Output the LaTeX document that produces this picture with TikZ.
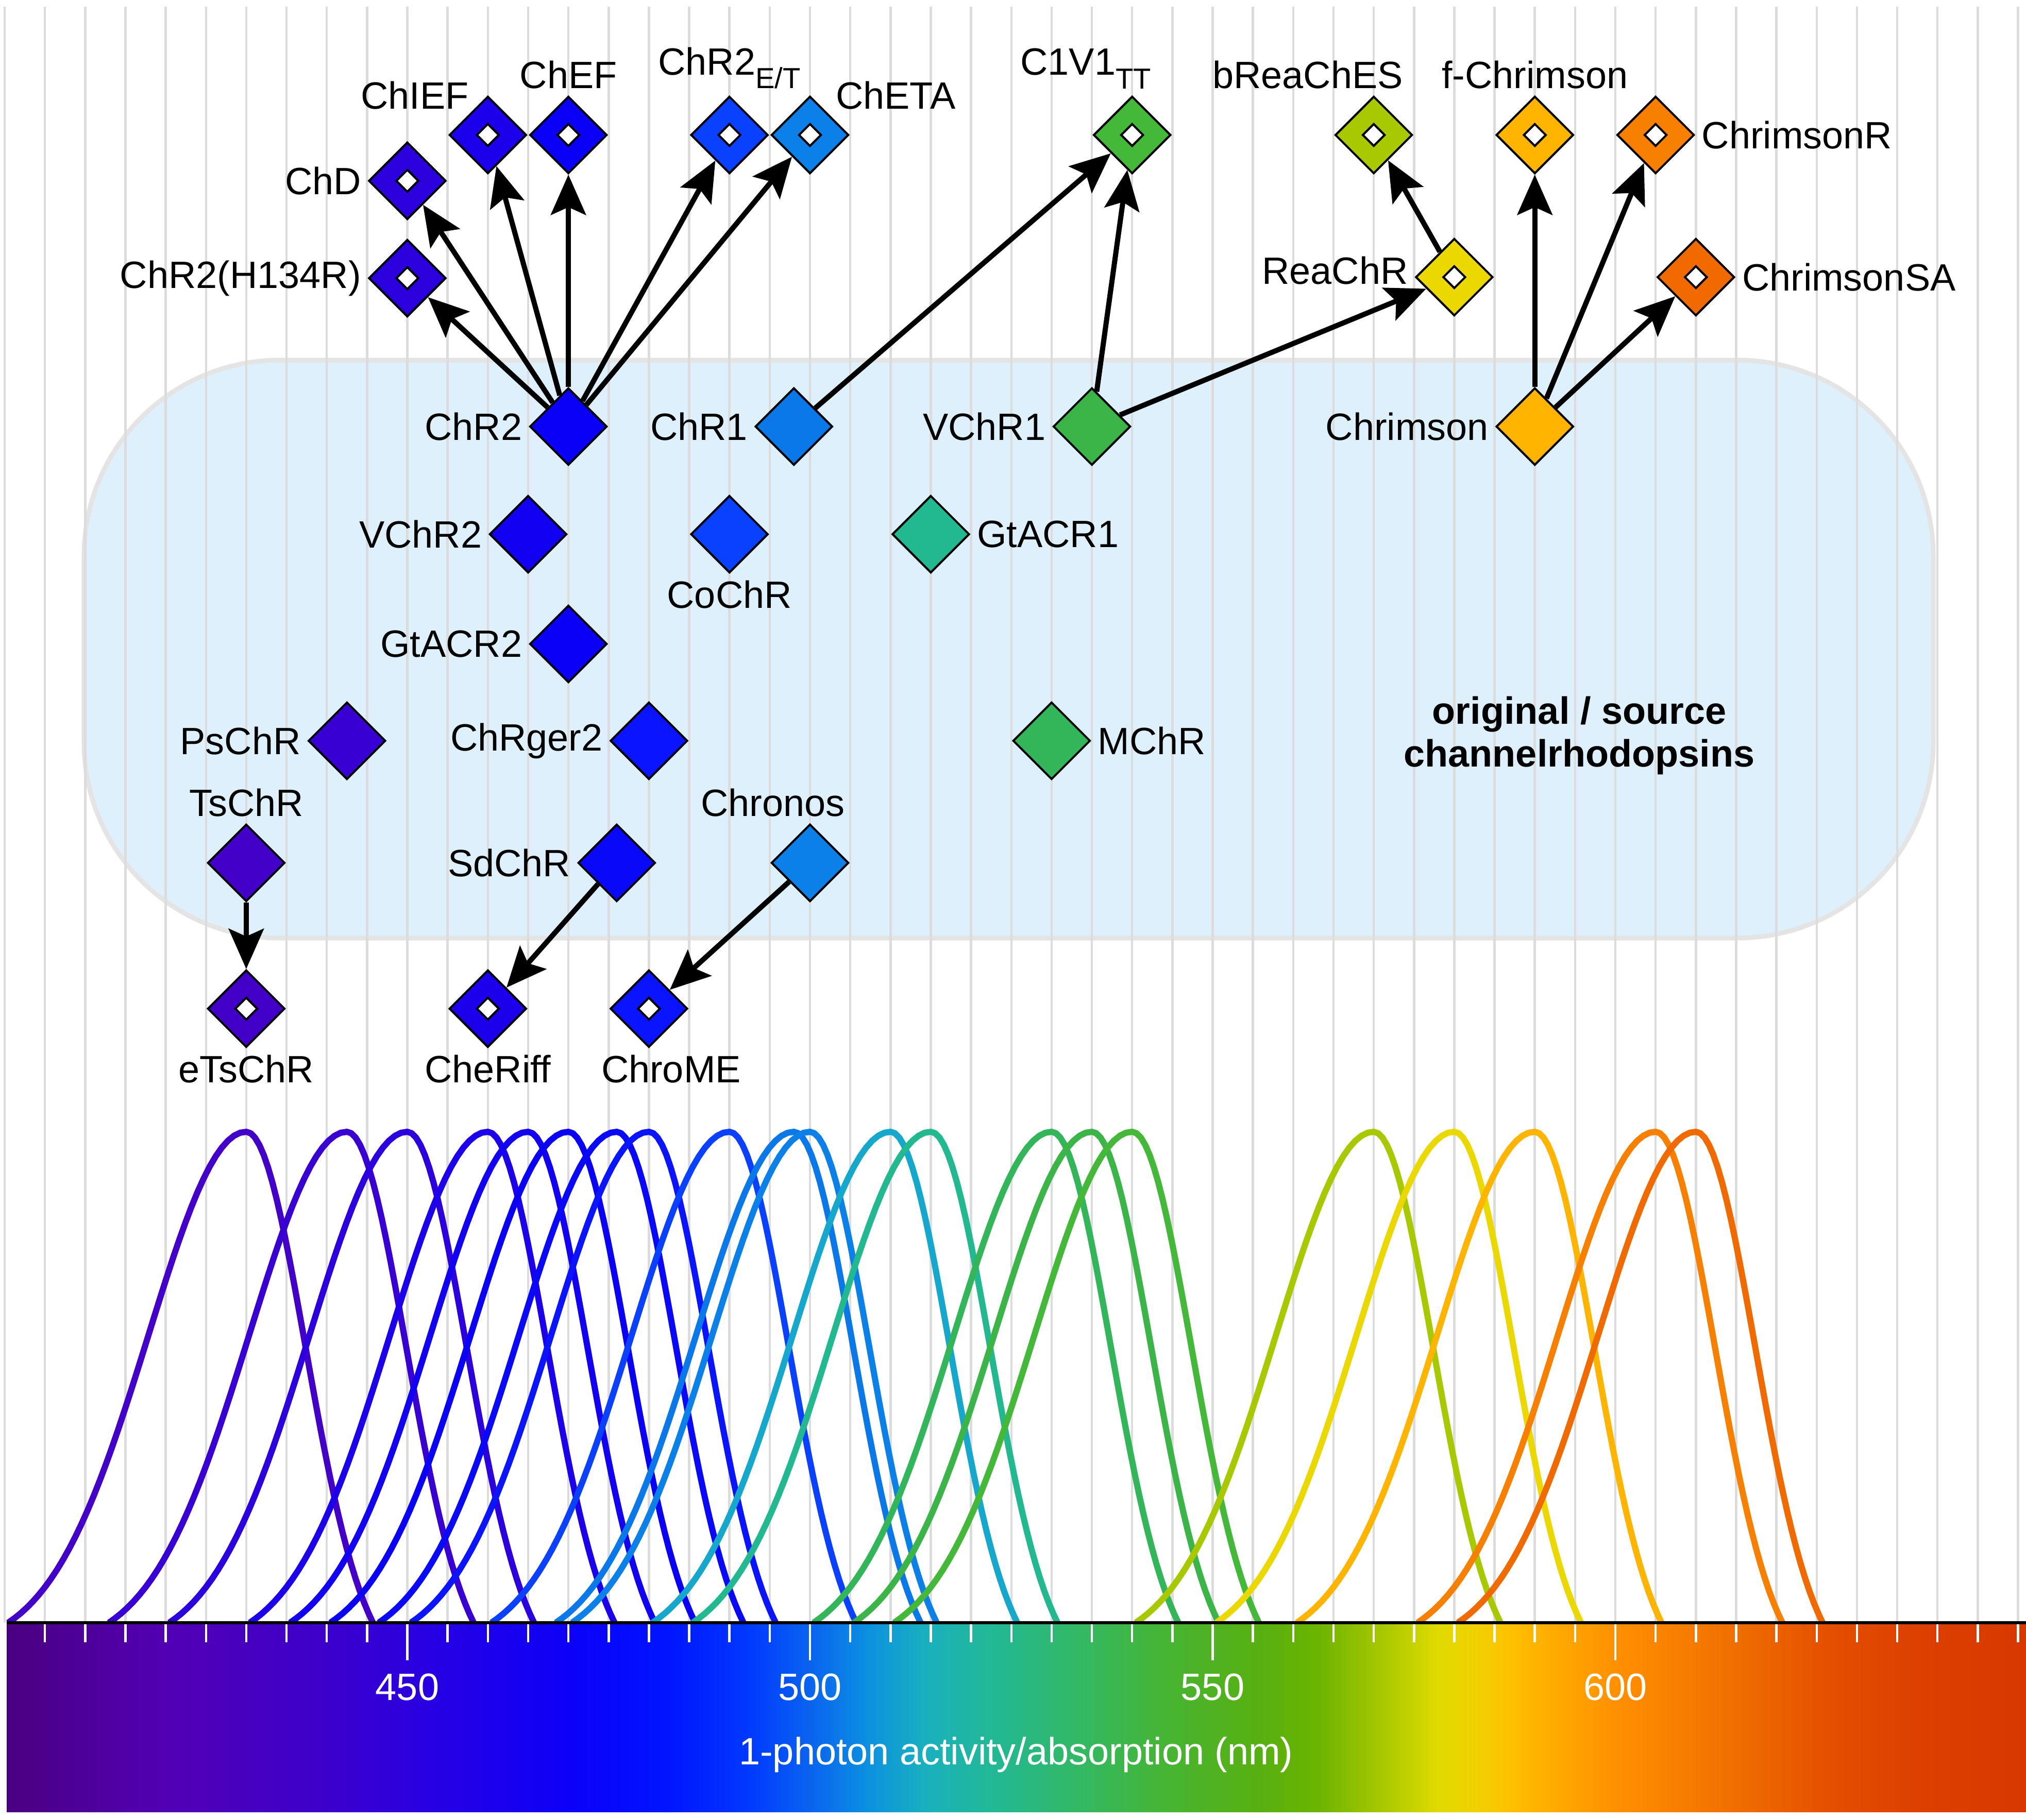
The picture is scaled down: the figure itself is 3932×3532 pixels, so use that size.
\documentclass[tikz,border=0pt]{standalone}
\usepackage{fontspec}
\setmainfont{Liberation Sans}
\usetikzlibrary{shapes.geometric, arrows.meta, positioning}

% colours of the opsins, by peak wavelength
\definecolor{c430}{HTML}{4200C8}
\definecolor{c442}{HTML}{3800D2}
\definecolor{c450}{HTML}{2C00DE}
\definecolor{c460}{HTML}{1C00EC}
\definecolor{c465}{HTML}{1200F2}
\definecolor{c470}{HTML}{0A00F5}
\definecolor{c476}{HTML}{0A08F8}
\definecolor{c480}{HTML}{0A14FF}
\definecolor{c490}{HTML}{0A40FF}
\definecolor{c498}{HTML}{0A78E8}
\definecolor{c500}{HTML}{0A80E8}
\definecolor{c510}{HTML}{16A8CC}
\definecolor{c515}{HTML}{22B990}
\definecolor{c530}{HTML}{33B55A}
\definecolor{c535}{HTML}{3BB548}
\definecolor{c540}{HTML}{44B838}
\definecolor{c570}{HTML}{A8C800}
\definecolor{c580}{HTML}{EAD800}
\definecolor{c590}{HTML}{FFB400}
\definecolor{c605}{HTML}{F88000}
\definecolor{c610}{HTML}{F06A00}
\definecolor{boxfill}{HTML}{DDF0FC}
\definecolor{boxline}{HTML}{E4E4E4}
\definecolor{gridgray}{HTML}{DCDCDC}

% colour bar stops
\definecolor{s400}{HTML}{4A0080}
\definecolor{s420}{HTML}{5200B4}
\definecolor{s440}{HTML}{3C00CC}
\definecolor{s455}{HTML}{2400E6}
\definecolor{s470}{HTML}{0C00F8}
\definecolor{s482}{HTML}{0014FF}
\definecolor{s492}{HTML}{0038FF}
\definecolor{s500}{HTML}{0A64F0}
\definecolor{s507}{HTML}{0C90E0}
\definecolor{s514}{HTML}{18B0C0}
\definecolor{s522}{HTML}{22B898}
\definecolor{s534}{HTML}{34B860}
\definecolor{s545}{HTML}{48B430}
\definecolor{s556}{HTML}{58B010}
\definecolor{s563}{HTML}{6CB400}
\definecolor{s571}{HTML}{A8C800}
\definecolor{s578}{HTML}{E0DA00}
\definecolor{s583}{HTML}{F2D000}
\definecolor{s587}{HTML}{FFC000}
\definecolor{s593}{HTML}{FFA800}
\definecolor{s600}{HTML}{FF9000}
\definecolor{s615}{HTML}{F06E00}
\definecolor{s626}{HTML}{E55000}
\definecolor{s637}{HTML}{DD4000}
\definecolor{s651}{HTML}{D83800}

\pgfdeclarehorizontalshading{spectrum}{100bp}{color(0bp)=(s400); color(25bp)=(s400);
  color(28.98bp)=(s420); color(32.97bp)=(s440); color(35.96bp)=(s455); color(38.94bp)=(s470);
  color(41.33bp)=(s482); color(43.33bp)=(s492); color(44.92bp)=(s500); color(46.31bp)=(s507);
  color(47.71bp)=(s514); color(49.30bp)=(s522); color(51.69bp)=(s534); color(53.88bp)=(s545);
  color(56.08bp)=(s556); color(57.47bp)=(s563); color(59.06bp)=(s571); color(60.46bp)=(s578);
  color(61.45bp)=(s583); color(62.25bp)=(s587); color(63.45bp)=(s593); color(64.84bp)=(s600);
  color(67.83bp)=(s615); color(70.02bp)=(s626); color(72.21bp)=(s637); color(75bp)=(s651);
  color(100bp)=(s651)}

\newcommand{\lsub}[1]{\raisebox{-0.36em}{\fontsize{16}{16}\selectfont #1}}

\begin{document}
\begin{tikzpicture}[
  x=0.01cm, y=-0.01cm,
  font=\fontsize{21}{25}\selectfont,
  declare function={wl(\l)=1572+(\l-500)*15.63;},
  >={Stealth[length=0.78cm, width=0.68cm, inset=0.15cm]},
  srcnode/.style={diamond, aspect=1, draw=black, line width=0.04cm, minimum size=1.5cm, inner sep=0pt},
  varnode/.style={srcnode, path picture={\node[diamond, aspect=1, draw=black, fill=white,
      line width=0.04cm, minimum size=0.44cm, inner sep=0pt] at (path picture bounding box.center) {};}},
  every label/.style={inner sep=0.08cm},
  label distance=0.04cm,
  arr/.style={->, line width=0.1cm},
  gridline/.style={gridgray, line width=0.045cm},
  specline/.style={line width=0.12cm, line join=round},
  tickmark/.style={white, line width=0.045cm},
  srcbox/.style={fill=boxfill, draw=boxline, line width=0.09cm, rounded corners=3.8cm}
]
\useasboundingbox (0,0) rectangle (3932,3532);
\fill[white] (0,0) rectangle (3932,3532);

% source area and grid
\draw[srcbox] (163,699) rectangle (3752,1821);
\foreach \l in {400,405,...,650}
  \draw[gridline] ({wl(\l)},13) -- ({wl(\l)},3150);

% action spectra
\foreach \p/\c in {430/c430, 442.5/c442, 450/c450, 460/c460, 465/c465, 470/c470, 476/c476,
    480/c480, 490/c490, 498/c498, 500/c500, 510/c510, 515/c515, 530/c530, 535/c535,
    540/c540, 570/c570, 580/c580, 590/c590, 605/c605, 610/c610}
  \draw[specline, \c]
    plot[domain=-462:0, samples=40] ({wl(\p)+\x}, {3150-953*(exp(-(\x/190)*(\x/190)/2)-0.052)/0.948})
    -- plot[domain=0:246, samples=30] ({wl(\p)+\x}, {3150-953*(exp(-(\x/115)*(\x/115)/2)-0.1015)/0.8985});

% colour bar and axis
\shade[shading=spectrum] (13,3150) rectangle (3932,3517);
\draw[line width=0.06cm] (13,3150) -- (3932,3150);
\foreach \l in {405,410,...,650}
  \draw[tickmark] ({wl(\l)},3153) -- ({wl(\l)},3188);
\foreach \l in {450,500,550,600} {
  \draw[tickmark] ({wl(\l)},3153) -- ({wl(\l)},3223);
  \node[white] (tl\l) at ({wl(\l)},3275) {\l};
}
\node[white, anchor=base] (axtitle) at (1972,3425) {1-photon activity/absorption (nm)};

\node[align=center, font=\fontsize{21}{23.6}\selectfont\bfseries] (srctxt) at (3065,1428)
  {original / source\\channelrhodopsins};

% source channelrhodopsins
\node[srcnode, fill=c470, label=left:ChR2]    (chr2)     at ({wl(470)},828) {};
\node[srcnode, fill=c498, label=left:ChR1]    (chr1)     at ({wl(498)},828) {};
\node[srcnode, fill=c535, label=left:VChR1]   (vchr1)    at ({wl(535)},828) {};
\node[srcnode, fill=c590, label=left:Chrimson] (chrimson) at ({wl(590)},828) {};
\node[srcnode, fill=c465, label=left:VChR2]   (vchr2)    at ({wl(465)},1037) {};
\node[srcnode, fill=c490, label=below:CoChR]  (cochr)    at ({wl(490)},1037) {};
\node[srcnode, fill=c515, label=right:GtACR1] (gtacr1)   at ({wl(515)},1037) {};
\node[srcnode, fill=c470, label=left:GtACR2]  (gtacr2)   at ({wl(470)},1250) {};
\node[srcnode, fill=c442, label=left:PsChR]   (pschr)    at ({wl(442.5)},1438) {};
\node[srcnode, fill=c480, label=left:ChRger2] (chrger2)  at ({wl(480)},1438) {};
\node[srcnode, fill=c530, label=right:MChR]   (mchr)     at ({wl(530)},1438) {};
\node[srcnode, fill=c430, label=above:TsChR]  (tschr)    at ({wl(430)},1675) {};
\node[srcnode, fill=c476, label=left:SdChR]   (sdchr)    at ({wl(476)},1675) {};
\node[srcnode, fill=c500, label={[xshift=-0.72cm]above:Chronos}] (chronos) at ({wl(500)},1675) {};

% engineered variants
\node[varnode, fill=c450, label={left:ChR2(H134R)}] (chrh) at ({wl(450)},540) {};
\node[varnode, fill=c450, label=left:ChD]       (chd)    at ({wl(450)},351) {};
\node[varnode, fill=c460, label={[xshift=0.13cm]135:ChIEF}] (chief) at ({wl(460)},262) {};
\node[varnode, fill=c470, label=above:ChEF]     (chef)   at ({wl(470)},262) {};
\node[varnode, fill=c490, label={above:ChR2\lsub{E/T}}] (chret) at ({wl(490)},262) {};
\node[varnode, fill=c500, label=45:ChETA]       (cheta)  at ({wl(500)},262) {};
\node[varnode, fill=c540, label={[xshift=-0.9cm]above:C1V1\lsub{TT}}] (c1v1) at ({wl(540)},262) {};
\node[varnode, fill=c570, label={[xshift=-1.28cm]above:bReaChES}] (breaches) at ({wl(570)},262) {};
\node[varnode, fill=c590, label=above:f-Chrimson] (fchrim) at ({wl(590)},262) {};
\node[varnode, fill=c605, label=right:ChrimsonR] (chrimr) at ({wl(605)},262) {};
\node[varnode, fill=c580, label={[yshift=0.13cm]left:ReaChR}] (reachr) at ({wl(580)},538) {};
\node[varnode, fill=c610, label=right:ChrimsonSA] (chrimsa) at ({wl(610)},538) {};
\node[varnode, fill=c430, label=below:eTsChR]   (etschr) at ({wl(430)},1958) {};
\node[varnode, fill=c460, label=below:CheRiff]  (cheriff) at ({wl(460)},1958) {};
\node[varnode, fill=c480, label={[xshift=0.43cm]below:ChroME}] (chrome) at ({wl(480)},1958) {};

% lineage
\draw[arr] (chr2) -- (chrh);
\draw[arr] (chr2) -- (chd);
\draw[arr] (chr2) -- (chief);
\draw[arr] (chr2) -- (chef);
\draw[arr] (chr2) -- (chret);
\draw[arr] (chr2) -- (cheta);
\draw[arr] (chr1) -- (c1v1);
\draw[arr] (vchr1) -- (c1v1);
\draw[arr] (vchr1) -- (reachr);
\draw[arr] (reachr) -- (breaches);
\draw[arr] (chrimson) -- (fchrim);
\draw[arr] (chrimson) -- (chrimr);
\draw[arr] (chrimson) -- (chrimsa);
\draw[arr] (tschr) -- (etschr);
\draw[arr] (sdchr) -- (cheriff);
\draw[arr] (chronos) -- (chrome);
\end{tikzpicture}
\end{document}
